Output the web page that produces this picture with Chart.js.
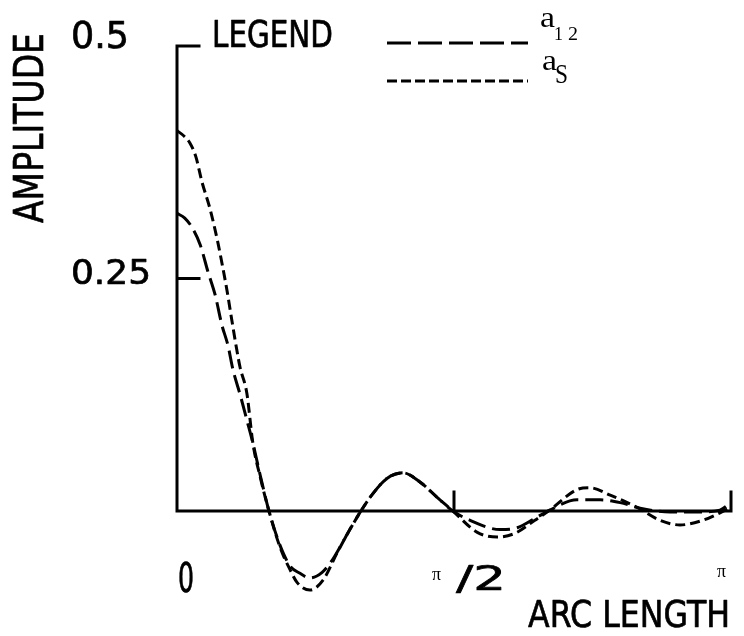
<!DOCTYPE html>
<html>
<head>
<meta charset="utf-8">
<script src="https://cdn.jsdelivr.net/npm/chart.js@4/dist/chart.umd.min.js"></script>
<style>
  html, body { margin: 0; padding: 0; background: #fff; }
  #wrap { width: 744px; height: 636px; }
</style>
</head>
<body>
<div id="wrap"><canvas id="chart" width="744" height="636"></canvas></div>
<script>
const ARC_S = [0, 0.013, 0.023, 0.034, 0.045, 0.060, 0.074, 0.081, 0.090, 0.099, 0.108, 0.114, 0.126, 0.137,
  0.150, 0.166, 0.186, 0.204, 0.217, 0.240, 0.264, 0.289, 0.312, 0.332, 0.354, 0.379, 0.408, 0.439, 0.469,
  0.498, 0.542, 0.578, 0.610, 0.646, 0.673, 0.722, 0.745, 0.782, 0.830, 0.872, 0.908, 0.949, 0.980, 1.0];
const AMP_S = [0.409, 0.403, 0.396, 0.381, 0.354, 0.324, 0.288, 0.267, 0.238, 0.205, 0.173, 0.154, 0.127, 0.073,
  0.037, 0.0, -0.039, -0.063, -0.077, -0.085, -0.074, -0.045, -0.020, 0.0, 0.019, 0.035, 0.041, 0.031, 0.015,
  0.0, -0.023, -0.028, -0.024, -0.010, 0.001, 0.023, 0.025, 0.017, 0.004, -0.010, -0.015, -0.010, -0.002, 0.004];

const ARC_12 = [0, 0.014, 0.027, 0.042, 0.056, 0.069, 0.081, 0.092, 0.101, 0.114, 0.126, 0.137, 0.150, 0.166,
  0.186, 0.204, 0.222, 0.240, 0.262, 0.280, 0.294, 0.312, 0.332, 0.354, 0.379, 0.408, 0.439, 0.469, 0.498,
  0.529, 0.583, 0.614, 0.646, 0.673, 0.722, 0.764, 0.800, 0.836, 0.890, 0.944, 0.980, 1.0];
const AMP_12 = [0.320, 0.315, 0.305, 0.286, 0.257, 0.232, 0.200, 0.178, 0.152, 0.125, 0.098, 0.073, 0.039, 0.0,
  -0.037, -0.059, -0.067, -0.072, -0.066, -0.053, -0.039, -0.020, 0.0, 0.019, 0.035, 0.041, 0.031, 0.015, 0.0,
  -0.010, -0.020, -0.018, -0.008, 0.001, 0.012, 0.012, 0.009, 0.003, -0.001, -0.001, 0.001, 0.009];

const Y_TICKS = [0.25, 0.5];
const Y_TICK_LABELS = ['0.25', '0.5'];
const X_TICKS = [0, 0.5, 1];

const SANS = '"DejaVu Sans", sans-serif';
const SERIF = '"Liberation Serif", serif';

// draws text squeezed/stretched to a given width (the original lettering is condensed)
function fitText(ctx, text, left, baseline, font, width, opts = {}) {
  ctx.save();
  ctx.font = font;
  const w = ctx.measureText(text).width;
  ctx.translate(left, baseline);
  if (opts.rotate) ctx.rotate(-Math.PI / 2);
  ctx.scale(width / w, 1);
  ctx.fillStyle = '#000';
  ctx.textBaseline = 'alphabetic';
  ctx.fillText(text, 0, 0);
  if (opts.heavy) {
    ctx.strokeStyle = '#000';
    ctx.lineWidth = 0.7;
    ctx.lineJoin = 'round';
    ctx.strokeText(text, 0, 0);
  }
  ctx.restore();
}
const sans = size => `${size}px ${SANS}`;
const serif = size => `${size}px ${SERIF}`;
const H = { heavy: true };

const frame = {
  id: 'frame',
  beforeDatasetsDraw(chart) {
    const { ctx, scales: { x, y } } = chart;
    const x0 = x.getPixelForValue(0), y0 = y.getPixelForValue(0);
    ctx.save();
    ctx.strokeStyle = '#000';
    ctx.lineWidth = 3;
    ctx.lineCap = 'square';
    ctx.beginPath();
    ctx.moveTo(x0, y.getPixelForValue(0.5));
    ctx.lineTo(x0, y0);
    ctx.lineTo(x.getPixelForValue(1), y0);
    Y_TICKS.forEach(v => {
      const py = y.getPixelForValue(v);
      ctx.moveTo(x0, py);
      ctx.lineTo(x0 + 22, py);
    });
    X_TICKS.slice(1).forEach(v => {
      const px = x.getPixelForValue(v);
      ctx.moveTo(px, y0);
      ctx.lineTo(px, y0 - 19);
    });
    ctx.stroke();
    ctx.restore();
  },
  afterDraw(chart) {
    const { ctx, scales: { x, y } } = chart;
    const x0 = x.getPixelForValue(0);

    // y tick labels
    fitText(ctx, Y_TICK_LABELS[1], x0 - 106, y.getPixelForValue(0.5) + 2, sans(38), 58, H);
    fitText(ctx, Y_TICK_LABELS[0], x0 - 106, y.getPixelForValue(0.25) + 5, sans(34), 80, H);
    fitText(ctx, 'AMPLITUDE', 43, 223, sans(41), 190, { heavy: true, rotate: true });

    // x tick labels
    const yl = y.getPixelForValue(0);
    fitText(ctx, '0', x.getPixelForValue(0) + 1, yl + 81, sans(40), 16, H);
    fitText(ctx, 'π', x.getPixelForValue(0.5) - 22, yl + 69, serif(18), 9);
    fitText(ctx, '/2', x.getPixelForValue(0.5) + 2, yl + 79, sans(34), 50, H);
    fitText(ctx, 'π', x.getPixelForValue(1) - 14, yl + 66, serif(18), 9);
    fitText(ctx, 'ARC LENGTH', 528, 627, sans(37), 202, H);

    // legend
    fitText(ctx, 'LEGEND', 212, 47, sans(37), 121, H);
    chart.data.datasets.forEach((ds, i) => {
      const ly = i === 0 ? 43 : 81;
      ctx.save();
      ctx.strokeStyle = '#000';
      ctx.lineWidth = 3;
      ctx.setLineDash(ds.legendDash);
      ctx.beginPath();
      ctx.moveTo(387, ly);
      ctx.lineTo(528, ly);
      ctx.stroke();
      ctx.restore();
    });
    fitText(ctx, 'a', 540, 27, serif(30), 15);
    fitText(ctx, '1', 554, 40, serif(19), 9);
    fitText(ctx, '2', 568, 40, serif(19), 10);
    fitText(ctx, 'a', 542, 70, serif(29), 15);
    fitText(ctx, 'S', 555, 83, serif(27), 13);
  }
};

const toPoints = (xs, ys) => xs.map((v, i) => ({ x: v, y: ys[i] }));

new Chart(document.getElementById('chart'), {
  type: 'line',
  data: {
    datasets: [
      {
        label: 'a12',
        data: toPoints(ARC_12, AMP_12),
        borderColor: '#000',
        borderWidth: 3,
        borderDash: [18, 7],
        legendDash: [24, 7],
        pointRadius: 0,
        cubicInterpolationMode: 'monotone',
      },
      {
        label: 'aS',
        data: toPoints(ARC_S, AMP_S),
        borderColor: '#000',
        borderWidth: 3,
        borderDash: [10, 5],
        legendDash: [10, 4],
        pointRadius: 0,
        cubicInterpolationMode: 'monotone',
      },
    ],
  },
  options: {
    responsive: false,
    animation: false,
    layout: { padding: { left: 177, right: 13, top: 46, bottom: 32 } },
    plugins: { legend: { display: false }, tooltip: { enabled: false } },
    scales: {
      x: { type: 'linear', min: 0, max: 1, display: false },
      y: { type: 'linear', min: -0.1, max: 0.5, display: false },
    },
  },
  plugins: [frame],
});
</script>
</body>
</html>
